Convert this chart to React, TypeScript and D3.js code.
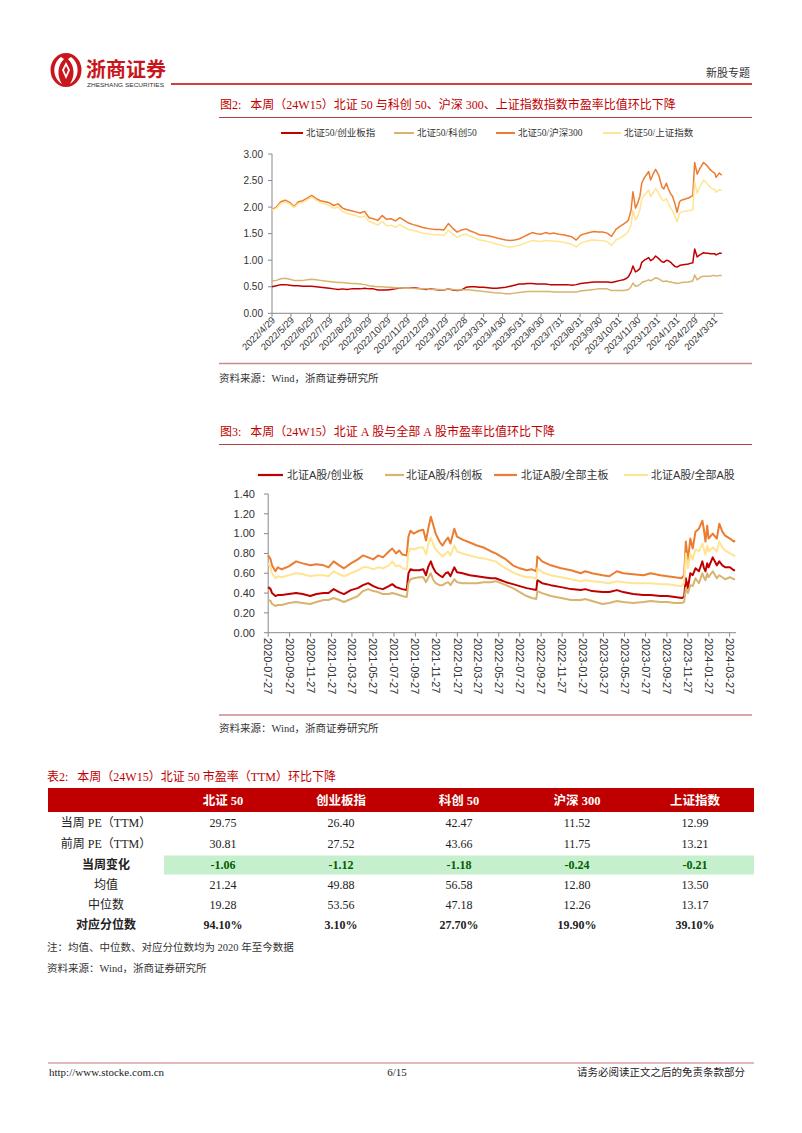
import React from 'react';
import * as d3 from 'd3';

// ---------------- Chart 1 data (北证50 与各指数市盈率比值) ----------------
const dates1 = [
  '2022-04-29','2022-05-06','2022-05-13','2022-05-20','2022-05-27','2022-06-03','2022-06-10','2022-06-17','2022-06-24','2022-07-01','2022-07-08','2022-07-15','2022-07-22','2022-07-29',
  '2022-08-05','2022-08-12','2022-08-19','2022-08-26','2022-09-02','2022-09-09','2022-09-16','2022-09-23','2022-09-30','2022-10-07','2022-10-14','2022-10-21','2022-10-28',
  '2022-11-04','2022-11-11','2022-11-18','2022-11-25','2022-12-02','2022-12-09','2022-12-16','2022-12-23','2022-12-30',
  '2023-01-06','2023-01-13','2023-01-20','2023-01-27','2023-02-03','2023-02-10','2023-02-17','2023-02-24',
  '2023-03-03','2023-03-10','2023-03-17','2023-03-24','2023-03-31','2023-04-07','2023-04-14','2023-04-21','2023-04-28',
  '2023-05-05','2023-05-12','2023-05-19','2023-05-26','2023-06-02','2023-06-09','2023-06-16','2023-06-23','2023-06-30',
  '2023-07-07','2023-07-14','2023-07-21','2023-07-28','2023-08-04','2023-08-11','2023-08-18','2023-08-25',
  '2023-09-01','2023-09-08','2023-09-15','2023-09-22','2023-09-29','2023-10-06','2023-10-13','2023-10-20',
  '2023-10-27','2023-11-03','2023-11-08','2023-11-13','2023-11-16','2023-11-20','2023-11-23','2023-11-27','2023-11-30',
  '2023-12-04','2023-12-07','2023-12-11','2023-12-14','2023-12-18','2023-12-21','2023-12-25','2023-12-29',
  '2024-01-03','2024-01-08','2024-01-11','2024-01-15','2024-01-18','2024-01-22','2024-01-25','2024-01-29',
  '2024-02-01','2024-02-05','2024-02-08','2024-02-19','2024-02-22','2024-02-26','2024-02-29',
  '2024-03-04','2024-03-07','2024-03-11','2024-03-14','2024-03-18','2024-03-21','2024-03-25','2024-03-28',
  '2024-04-01','2024-04-03','2024-04-08','2024-04-12'
];
const bz50Cyb = [
  0.50,0.52,0.54,0.54,0.53,0.52,0.52,0.51,0.51,0.51,0.50,0.49,0.48,0.47,
  0.46,0.45,0.46,0.45,0.46,0.46,0.46,0.47,0.46,0.46,0.44,0.44,0.44,
  0.45,0.46,0.48,0.47,0.47,0.48,0.47,0.46,0.45,
  0.46,0.45,0.44,0.44,0.46,0.44,0.43,0.44,
  0.49,0.50,0.50,0.49,0.49,0.48,0.47,0.47,0.48,
  0.49,0.51,0.53,0.55,0.55,0.56,0.56,0.55,0.55,
  0.55,0.54,0.54,0.54,0.54,0.54,0.53,0.54,
  0.56,0.57,0.58,0.59,0.59,0.59,0.59,0.58,
  0.60,0.62,0.63,0.66,0.69,0.78,0.89,0.78,0.80,
  0.84,0.96,1.00,1.02,1.05,0.99,1.02,1.08,
  1.03,0.97,0.96,1.00,0.99,0.96,0.92,0.88,
  0.87,0.90,0.91,0.93,0.94,0.95,1.21,
  1.06,1.09,1.12,1.14,1.13,1.13,1.12,1.12,
  1.12,1.10,1.13,1.13
];
const bz50Kc50 = [
  0.61,0.62,0.65,0.66,0.64,0.62,0.62,0.62,0.63,0.64,0.63,0.62,0.61,0.60,
  0.59,0.58,0.58,0.57,0.56,0.56,0.55,0.54,0.52,0.51,0.50,0.50,0.49,
  0.49,0.48,0.48,0.47,0.47,0.47,0.46,0.46,0.46,
  0.45,0.45,0.45,0.44,0.46,0.45,0.44,0.44,
  0.45,0.44,0.43,0.42,0.41,0.40,0.39,0.38,0.38,
  0.37,0.37,0.38,0.39,0.40,0.41,0.41,0.41,0.41,
  0.41,0.41,0.40,0.40,0.40,0.40,0.40,0.40,
  0.42,0.43,0.44,0.45,0.46,0.46,0.46,0.43,
  0.43,0.43,0.43,0.44,0.45,0.50,0.57,0.51,0.52,
  0.54,0.58,0.60,0.61,0.63,0.61,0.64,0.67,
  0.65,0.61,0.60,0.61,0.60,0.59,0.58,0.57,
  0.56,0.57,0.58,0.59,0.60,0.61,0.72,
  0.63,0.66,0.69,0.70,0.70,0.70,0.70,0.71,
  0.71,0.70,0.71,0.71
];
const bz50Hs300 = [
  1.95,2.00,2.10,2.13,2.09,2.01,2.10,2.12,2.17,2.22,2.16,2.12,2.10,2.08,
  2.03,2.06,1.98,1.95,1.93,1.91,1.89,1.92,1.80,1.78,1.75,1.84,1.77,
  1.78,1.74,1.80,1.75,1.70,1.67,1.65,1.62,1.60,
  1.59,1.58,1.58,1.57,1.69,1.60,1.53,1.57,
  1.59,1.55,1.52,1.48,1.47,1.46,1.44,1.42,1.40,
  1.38,1.37,1.38,1.40,1.44,1.48,1.52,1.50,1.49,
  1.52,1.50,1.51,1.49,1.48,1.46,1.44,1.38,
  1.47,1.50,1.52,1.54,1.53,1.53,1.51,1.45,
  1.58,1.64,1.68,1.72,1.76,1.94,2.29,1.98,2.06,
  2.20,2.45,2.55,2.60,2.67,2.51,2.62,2.71,
  2.60,2.38,2.34,2.45,2.35,2.25,2.20,2.05,
  1.90,2.10,2.13,2.17,2.19,2.22,2.84,
  2.62,2.70,2.78,2.84,2.80,2.76,2.70,2.67,
  2.64,2.56,2.64,2.60
];
const bz50Sz = [
  1.94,1.98,2.07,2.10,2.06,1.99,2.07,2.09,2.14,2.19,2.13,2.08,2.06,2.03,
  1.98,2.00,1.92,1.88,1.86,1.84,1.81,1.83,1.73,1.70,1.66,1.73,1.65,
  1.66,1.62,1.67,1.62,1.58,1.56,1.54,1.51,1.50,
  1.49,1.48,1.48,1.47,1.56,1.49,1.43,1.47,
  1.49,1.45,1.42,1.38,1.37,1.35,1.33,1.30,1.28,
  1.26,1.25,1.26,1.28,1.31,1.34,1.37,1.36,1.35,
  1.37,1.36,1.36,1.35,1.34,1.32,1.30,1.25,
  1.32,1.35,1.37,1.38,1.37,1.37,1.35,1.28,
  1.38,1.42,1.46,1.50,1.55,1.66,1.94,1.76,1.82,
  1.95,2.15,2.22,2.26,2.32,2.20,2.27,2.35,
  2.26,2.14,2.12,2.16,2.08,1.98,1.93,1.82,
  1.72,1.88,1.91,1.93,1.94,1.95,2.48,
  2.26,2.35,2.44,2.51,2.47,2.42,2.37,2.34,
  2.33,2.28,2.33,2.31
];
const ticks1 = [
  '2022/4/29','2022/5/29','2022/6/29','2022/7/29','2022/8/29','2022/9/29','2022/10/29','2022/11/29','2022/12/29',
  '2023/1/29','2023/2/28','2023/3/31','2023/4/30','2023/5/31','2023/6/30','2023/7/31','2023/8/31','2023/9/30',
  '2023/10/31','2023/11/30','2023/12/31','2024/1/31','2024/2/29','2024/3/31'
];
const names1 = ['北证50/创业板指','北证50/科创50','北证50/沪深300','北证50/上证指数'];

// ---------------- Chart 2 data (北证A股 与全部A股市盈率比值) ----------------
const dates2 = [
  '2020-07-27','2020-08-03','2020-08-07','2020-08-17','2020-08-24','2020-09-04','2020-09-25','2020-10-16','2020-11-04','2020-11-26','2020-12-14',
  '2021-01-04','2021-01-18','2021-02-02','2021-02-18','2021-03-04','2021-03-24','2021-04-13','2021-04-28','2021-05-13','2021-05-28',
  '2021-06-11','2021-06-25','2021-07-12','2021-07-22','2021-08-02','2021-08-11','2021-08-20','2021-09-02','2021-09-07','2021-09-13',
  '2021-09-22','2021-10-08','2021-10-20','2021-10-28','2021-11-04','2021-11-11','2021-11-17','2021-11-25','2021-12-06','2021-12-15',
  '2021-12-24','2021-12-31','2022-01-07','2022-01-18','2022-01-26','2022-02-11','2022-03-04','2022-03-25','2022-04-13','2022-05-05',
  '2022-05-18','2022-06-02','2022-06-17','2022-07-07','2022-07-27','2022-08-16','2022-08-31','2022-09-13','2022-09-16','2022-09-30',
  '2022-10-25','2022-11-24','2022-12-23','2023-01-20','2023-02-02','2023-02-22','2023-03-24','2023-04-13','2023-05-05','2023-05-23',
  '2023-06-21','2023-07-21','2023-08-11','2023-09-08','2023-09-28','2023-10-20','2023-11-09','2023-11-16','2023-11-21','2023-11-27',
  '2023-12-04','2023-12-11','2023-12-19','2023-12-29','2024-01-08','2024-01-12','2024-01-17','2024-01-22','2024-01-26','2024-02-07',
  '2024-02-19','2024-02-26','2024-03-06','2024-03-14','2024-03-28','2024-04-08','2024-04-12'
];
const bzCyb = [
  0.46,0.44,0.40,0.37,0.38,0.38,0.39,0.40,0.39,0.37,0.39,
  0.40,0.40,0.44,0.41,0.39,0.43,0.45,0.48,0.50,0.47,
  0.45,0.44,0.47,0.49,0.46,0.45,0.44,0.43,0.60,0.64,
  0.63,0.63,0.64,0.58,0.67,0.72,0.66,0.61,0.58,0.56,
  0.60,0.61,0.57,0.66,0.61,0.60,0.58,0.57,0.56,0.55,
  0.55,0.53,0.51,0.49,0.47,0.45,0.44,0.43,0.53,0.50,
  0.48,0.46,0.44,0.43,0.44,0.42,0.41,0.41,0.43,0.41,
  0.39,0.38,0.38,0.37,0.37,0.36,0.35,0.36,0.55,0.45,
  0.60,0.58,0.65,0.62,0.72,0.66,0.62,0.70,0.66,0.76,
  0.68,0.72,0.68,0.66,0.66,0.63,0.63
];
const bzKcb = [
  0.33,0.32,0.29,0.27,0.28,0.28,0.30,0.31,0.30,0.29,0.31,
  0.33,0.33,0.35,0.33,0.31,0.34,0.37,0.42,0.44,0.42,
  0.41,0.39,0.39,0.40,0.39,0.38,0.37,0.36,0.50,0.54,
  0.55,0.56,0.56,0.51,0.56,0.60,0.54,0.50,0.48,0.48,
  0.50,0.51,0.48,0.54,0.51,0.50,0.50,0.50,0.51,0.51,
  0.52,0.50,0.48,0.45,0.41,0.37,0.35,0.34,0.42,0.40,
  0.37,0.35,0.33,0.33,0.34,0.32,0.29,0.30,0.32,0.31,
  0.30,0.31,0.32,0.31,0.31,0.30,0.30,0.31,0.45,0.40,
  0.48,0.47,0.55,0.50,0.60,0.56,0.53,0.60,0.56,0.62,
  0.55,0.58,0.56,0.54,0.56,0.54,0.54
];
const bzZb = [
  0.78,0.74,0.68,0.62,0.66,0.64,0.67,0.72,0.70,0.68,0.69,
  0.68,0.66,0.72,0.68,0.65,0.70,0.74,0.78,0.76,0.74,
  0.78,0.76,0.82,0.85,0.80,0.83,0.79,0.78,0.97,1.03,
  1.00,1.03,1.04,0.93,1.06,1.17,1.10,1.00,0.92,0.88,
  0.93,0.96,0.90,1.05,0.97,0.94,0.91,0.88,0.86,0.82,
  0.80,0.77,0.74,0.68,0.65,0.63,0.64,0.62,0.77,0.72,
  0.68,0.65,0.63,0.60,0.62,0.60,0.58,0.57,0.62,0.60,
  0.59,0.58,0.60,0.58,0.57,0.56,0.55,0.58,0.92,0.72,
  0.95,0.85,1.02,1.05,1.13,1.05,0.92,1.08,0.95,1.00,
  0.95,1.10,1.02,0.98,0.95,0.92,0.93
];
const bzAll = [
  0.70,0.66,0.60,0.55,0.57,0.56,0.58,0.60,0.59,0.57,0.58,
  0.58,0.57,0.62,0.59,0.57,0.60,0.63,0.66,0.66,0.64,
  0.66,0.65,0.68,0.72,0.67,0.68,0.65,0.64,0.80,0.85,
  0.84,0.86,0.86,0.79,0.90,0.96,0.90,0.84,0.80,0.77,
  0.80,0.82,0.78,0.88,0.82,0.80,0.78,0.76,0.75,0.73,
  0.72,0.68,0.65,0.61,0.58,0.56,0.56,0.54,0.65,0.61,
  0.58,0.56,0.54,0.52,0.53,0.52,0.51,0.50,0.52,0.51,
  0.50,0.50,0.50,0.49,0.49,0.48,0.47,0.50,0.80,0.65,
  0.80,0.74,0.84,0.82,0.90,0.85,0.79,0.88,0.82,0.86,
  0.82,0.92,0.86,0.83,0.80,0.78,0.77
];
const ticks2 = [
  '2020-07-27','2020-09-27','2020-11-27','2021-01-27','2021-03-27','2021-05-27','2021-07-27','2021-09-27',
  '2021-11-27','2022-01-27','2022-03-27','2022-05-27','2022-07-27','2022-09-27','2022-11-27','2023-01-27',
  '2023-03-27','2023-05-27','2023-07-27','2023-09-27','2023-11-27','2024-01-27','2024-03-27'
];
const names2 = ['北证A股/创业板','北证A股/科创板','北证A股/全部主板','北证A股/全部A股'];

// ---------------- Table data ----------------
const tableCols = ['北证 50','创业板指','科创 50','沪深 300','上证指数'];
const rowLabels = ['当周 PE（TTM）','前周 PE（TTM）','当周变化','均值','中位数','对应分位数'];
const peCur = [29.75, 26.40, 42.47, 11.52, 12.99];
const pePrev = [30.81, 27.52, 43.66, 11.75, 13.21];
const peChg = [-1.06, -1.12, -1.18, -0.24, -0.21];
const peMean = [21.24, 49.88, 56.58, 12.80, 13.50];
const peMedian = [19.28, 53.56, 47.18, 12.26, 13.17];
const pePct = [94.10, 3.10, 27.70, 19.90, 39.10];

const SERIF = '"Liberation Serif","Times New Roman","Noto Sans CJK SC",serif';
const SANS = '"Liberation Sans",Arial,sans-serif';
const SANS_CJK = '"Liberation Sans",Arial,"Noto Sans CJK SC",sans-serif';
const CJK = '"Noto Sans CJK SC",sans-serif';
const RED = '#C00000';
const COLORS = ['#C00000', '#D8B46E', '#EC7C30', '#FFE593'];
const NB = '\u00A0';

const parseISO = d3.timeParse('%Y-%m-%d');
const parseSlash = (s: string) => {
  const [y, m, d] = s.split('/').map(Number);
  return new Date(y, m - 1, d);
};

export default function App() {
  // chart 1 scales
  const d1 = dates1.map((s) => parseISO(s) as Date);
  const x1 = d3.scaleTime()
    .domain([parseSlash(ticks1[0]), parseSlash(ticks1[ticks1.length - 1])])
    .range([272, 714.2]);
  const y1 = d3.scaleLinear().domain([0, 3]).range([313.3, 154]);
  const series1 = [bz50Cyb, bz50Kc50, bz50Hs300, bz50Sz];
  const line1 = (vals: number[]) =>
    d3.line<number>().x((_, i) => x1(d1[i])).y((v) => y1(v))(vals) || '';

  // chart 2 scales
  const d2 = dates2.map((s) => parseISO(s) as Date);
  const x2 = d3.scaleTime()
    .domain([parseISO(ticks2[0]) as Date, parseISO(ticks2[ticks2.length - 1]) as Date])
    .range([268.2, 729.6]);
  const y2 = d3.scaleLinear().domain([0, 1.4]).range([632.7, 494]);
  const series2 = [bzCyb, bzKcb, bzZb, bzAll];
  const line2 = (vals: number[]) =>
    d3.line<number>().x((_, i) => x2(d2[i])).y((v) => y2(v))(vals) || '';

  const leg1 = [[281, 303, 306], [394, 414, 417], [496, 515, 518], [603, 621, 624]];
  const leg2 = [[258, 283, 287], [385, 404, 406], [494, 517, 521], [624, 648, 651]];

  // table layout
  const tX0 = 48, tX1 = 754, labW = 116;
  const colW = (tX1 - tX0 - labW) / tableCols.length;
  const colC = tableCols.map((_, i) => tX0 + labW + colW * (i + 0.5));
  const rowC = [823, 844, 865, 885, 905, 925];
  const fmt2 = (v: number) => v.toFixed(2);
  const rows: string[][] = [
    peCur.map(fmt2), pePrev.map(fmt2), peChg.map(fmt2),
    peMean.map(fmt2), peMedian.map(fmt2), pePct.map((v) => fmt2(v) + '%'),
  ];

  return (
    <svg width={802} height={1133} viewBox="0 0 802 1133"
      style={{ position: 'absolute', left: 0, top: 0, background: '#fff' }}>
      <rect x={0} y={0} width={802} height={1133} fill="#fff" />

      {/* Header */}
      <g>
        <ellipse cx={66} cy={70} rx={15.5} ry={17} fill="#C8161D" />
        <path d="M61 57 C52 63 52 78 62 84 C57 76 57 66 64 59 Z" fill="#fff" />
        <path d="M71 57 C80 63 80 78 70 84 C75 76 75 66 68 59 Z" fill="#fff" />
        <path d="M66 62 L70 70 L66 79 L62 70 Z" fill="#fff" />
        <path d="M66 66 L68 70 L66 75 L64 70 Z" fill="#C8161D" />
        <text x={86} y={77} fontFamily={CJK} fontSize={20} fontWeight={700} fill="#C8161D">浙商证券</text>
        <text x={87} y={87} fontFamily={SANS} fontSize={5.5} fill="#333" textLength={77} lengthAdjust="spacingAndGlyphs">ZHESHANG SECURITIES</text>
        <line x1={171} x2={752} y1={84} y2={84} stroke="#C00000" strokeWidth={1.6} />
        <text x={750} y={77} textAnchor="end" fontFamily={CJK} fontSize={11} fill="#333">新股专题</text>
      </g>

      {/* Figure 2 title */}
      <text x={220} y={109} fontFamily={SERIF} fontSize={12} fill={RED}>
        {`图2:${NB}${NB}${NB}本周（24W15）北证${NB}50${NB}与科创${NB}50、沪深${NB}300、上证指数指数市盈率比值环比下降`}
      </text>
      <line x1={219} x2={752} y1={117.5} y2={117.5} stroke="#B04040" strokeWidth={1} />

      {/* Chart 1 legend */}
      {names1.map((n, i) => (
        <g key={n}>
          <line x1={leg1[i][0]} x2={leg1[i][1]} y1={133} y2={133} stroke={COLORS[i]} strokeWidth={2} />
          <text x={leg1[i][2]} y={136.3} fontFamily={SERIF} fontSize={9.5} fill="#333">{n}</text>
        </g>
      ))}

      {/* Chart 1 axes */}
      <g>
        <line x1={272} x2={272} y1={154} y2={313.3} stroke="#898989" strokeWidth={1} />
        <line x1={272} x2={723} y1={313.3} y2={313.3} stroke="#898989" strokeWidth={1} />
        {y1.ticks(6).map((t) => (
          <g key={t}>
            <line x1={268} x2={272} y1={y1(t)} y2={y1(t)} stroke="#898989" />
            <text x={263} y={y1(t)} dy="0.35em" textAnchor="end" fontFamily={SANS} fontSize={10} fill="#333">{t.toFixed(2)}</text>
          </g>
        ))}
        {ticks1.map((t) => {
          const tx = x1(parseSlash(t));
          return (
            <g key={t}>
              <line x1={tx} x2={tx} y1={313.3} y2={317} stroke="#898989" />
              <text transform={`translate(${tx + 1.5},${318.5}) rotate(-45)`} dy="0.35em" textAnchor="end"
                fontFamily={SANS} fontSize={9.5} fill="#333">{t}</text>
            </g>
          );
        })}
      </g>
      {/* Chart 1 lines */}
      {series1.map((s, i) => (
        <path key={i} d={line1(s)} fill="none" stroke={COLORS[i]} strokeWidth={1.5} strokeLinejoin="round" />
      ))}

      {/* Source 1 */}
      <line x1={219} x2={752} y1={363.5} y2={363.5} stroke="#C98A8C" strokeWidth={1.3} />
      <text x={219} y={381.5} fontFamily={SERIF} fontSize={10.5} fill="#333">资料来源：Wind，浙商证券研究所</text>

      {/* Figure 3 title */}
      <text x={220} y={436} fontFamily={SERIF} fontSize={12} fill={RED}>
        {`图3:${NB}${NB}${NB}本周（24W15）北证${NB}A${NB}股与全部${NB}A${NB}股市盈率比值环比下降`}
      </text>
      <line x1={219} x2={752} y1={444.5} y2={444.5} stroke="#B04040" strokeWidth={1} />

      {/* Chart 2 legend */}
      {names2.map((n, i) => (
        <g key={n}>
          <line x1={leg2[i][0]} x2={leg2[i][1]} y1={475} y2={475} stroke={COLORS[i]} strokeWidth={2.2} />
          <text x={leg2[i][2]} y={479} fontFamily={SANS_CJK} fontSize={11} fill="#333">{n}</text>
        </g>
      ))}

      {/* Chart 2 axes */}
      <g>
        <line x1={268.2} x2={268.2} y1={494} y2={632.7} stroke="#898989" strokeWidth={1} />
        <line x1={268.2} x2={736} y1={632.7} y2={632.7} stroke="#898989" strokeWidth={1} />
        {y2.ticks(7).map((t) => (
          <g key={t}>
            <line x1={264} x2={268.2} y1={y2(t)} y2={y2(t)} stroke="#898989" />
            <text x={255} y={y2(t)} dy="0.35em" textAnchor="end" fontFamily={SANS} fontSize={11} fill="#333">{t.toFixed(2)}</text>
          </g>
        ))}
        {ticks2.map((t) => {
          const tx = x2(parseISO(t) as Date);
          return (
            <g key={t}>
              <line x1={tx} x2={tx} y1={632.7} y2={636.7} stroke="#898989" />
              <text transform={`translate(${tx},${638}) rotate(90)`} dy="0.35em" textAnchor="start"
                fontFamily={SANS} fontSize={11} fill="#333">{t}</text>
            </g>
          );
        })}
      </g>
      {/* Chart 2 lines */}
      {series2.map((s, i) => (
        <path key={i} d={line2(s)} fill="none" stroke={COLORS[i]} strokeWidth={2} strokeLinejoin="round" />
      ))}

      {/* Source 2 */}
      <line x1={219} x2={752} y1={715} y2={715} stroke="#C98A8C" strokeWidth={1.3} />
      <text x={219} y={731.5} fontFamily={SERIF} fontSize={10.5} fill="#333">资料来源：Wind，浙商证券研究所</text>

      {/* Table title */}
      <text x={47} y={781} fontFamily={SERIF} fontSize={12} fill={RED}>
        {`表2:${NB}${NB}${NB}本周（24W15）北证${NB}50${NB}市盈率（TTM）环比下降`}
      </text>

      {/* Table */}
      <rect x={tX0} y={788} width={tX1 - tX0} height={24} fill="#C00000" />
      {tableCols.map((c, i) => (
        <text key={c} x={colC[i]} y={804.5} textAnchor="middle" fontFamily={SERIF} fontSize={12.5}
          fontWeight={700} fill="#fff">{c}</text>
      ))}
      <rect x={tX0 + labW} y={855.5} width={tX1 - tX0 - labW} height={19} fill="#C6EFCE" />
      {rowLabels.map((lab, r) => {
        const bold = r === 2 || r === 5;
        return (
          <g key={lab}>
            <text x={106} y={rowC[r] + 4.3} textAnchor="middle" fontFamily={SERIF} fontSize={12}
              fontWeight={bold ? 700 : 400} fill="#222">{lab}</text>
            {rows[r].map((v, i) => (
              <text key={i} x={colC[i]} y={rowC[r] + 4.3} textAnchor="middle" fontFamily={SERIF} fontSize={12}
                fontWeight={bold ? 700 : 400} fill={r === 2 ? '#006100' : '#222'}>{v}</text>
            ))}
          </g>
        );
      })}

      <text x={47} y={951} fontFamily={SERIF} fontSize={10.5} fill="#333">注：均值、中位数、对应分位数均为 2020 年至今数据</text>
      <text x={47} y={972} fontFamily={SERIF} fontSize={10.5} fill="#333">资料来源：Wind，浙商证券研究所</text>

      {/* Footer */}
      <line x1={48} x2={754} y1={1063} y2={1063} stroke="#D9A0A6" strokeWidth={1.3} />
      <text x={49} y={1076} fontFamily={SERIF} fontSize={11} fill="#222">http://www.stocke.com.cn</text>
      <text x={397} y={1076} textAnchor="middle" fontFamily={SERIF} fontSize={11} fill="#222">6/15</text>
      <text x={745} y={1076} textAnchor="end" fontFamily={SERIF} fontSize={10.5} fill="#222">请务必阅读正文之后的免责条款部分</text>
    </svg>
  );
}
